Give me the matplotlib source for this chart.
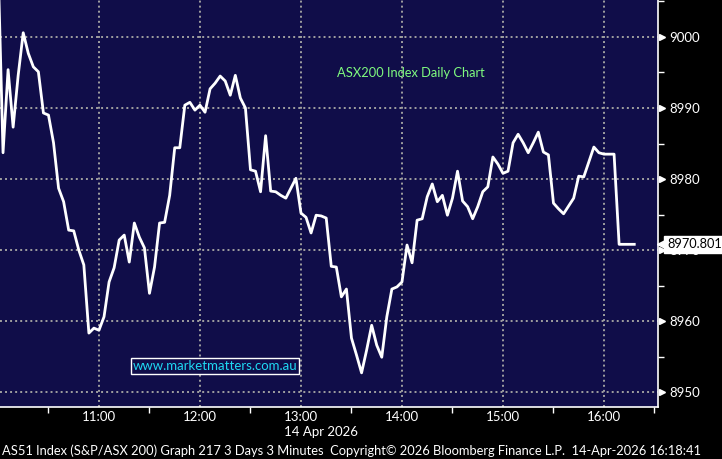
import numpy as np
import pandas as pd
import matplotlib
matplotlib.use("Agg")
import matplotlib.pyplot as plt
import matplotlib.dates as mdates
import matplotlib.transforms as mtransforms
from matplotlib.ticker import MultipleLocator, FixedLocator

# ASX200 3-minute closes, 14 Apr 2026
closes = [
    9010.8, 8983.7, 8995.4, 8987.3, 8994.6, 9000.6, 8997.7, 8995.8, 8995.1, 8989.3,
    8989.0, 8985.1, 8978.7, 8976.8, 8972.8, 8972.7, 8970.0, 8967.9, 8958.3, 8959.0,
    8958.7, 8960.6, 8965.5, 8967.5, 8971.4, 8972.1, 8968.3, 8973.8, 8971.8, 8970.3,
    8963.9, 8967.6, 8973.8, 8973.9, 8977.7, 8984.4, 8984.4, 8990.4, 8990.8, 8989.7,
    8990.4, 8989.4, 8992.7, 8993.5, 8994.5, 8993.8, 8991.8, 8994.6, 8991.4, 8990.0,
    8981.3, 8981.1, 8978.2, 8986.1, 8978.3, 8978.2, 8977.7, 8977.3, 8978.7, 8980.1,
    8975.2, 8974.6, 8972.4, 8974.9, 8974.8, 8974.5, 8967.7, 8967.6, 8963.4, 8964.5,
    8957.6, 8955.2, 8952.7, 8955.9, 8959.4, 8956.6, 8954.9, 8960.6, 8964.5, 8964.8,
    8965.5, 8970.7, 8968.2, 8974.2, 8974.4, 8977.5, 8979.3, 8976.8, 8977.7, 8974.9,
    8977.3, 8981.1, 8976.9, 8976.1, 8974.4, 8976.1, 8978.2, 8978.9, 8983.1, 8982.1,
    8980.8, 8981.1, 8985.1, 8986.3, 8985.1, 8983.7, 8985.1, 8986.6, 8983.8, 8983.4,
    8976.6, 8975.8, 8975.1, 8976.2, 8977.3, 8980.4, 8980.3, 8982.4, 8984.5, 8983.7,
    8983.5, 8983.5, 8983.5, 8970.801, 8970.801, 8970.801, 8970.801,
]
times = pd.date_range("2026-04-14 10:00", periods=len(closes), freq="3min")
last_price = 8970.801
y_ticks = [8950, 8960, 8970, 8980, 8990, 9000]

title = "ASX200 Index Daily Chart"
watermark = "www.marketmatters.com.au"
date_label = "14 Apr 2026"
footer = ("AS51 Index (S&P/ASX 200) Graph 217 3 Days 3 Minutes  "
          "Copyright\u00a9 2026 Bloomberg Finance L.P.  14-Apr-2026 16:18:41")

navy = "#100d49"
plt.rcParams["font.family"] = ["Lato", "DejaVu Sans"]

fig = plt.figure(figsize=(7.22, 4.59), dpi=100, facecolor="black")
ax = fig.add_axes([0, 52 / 459, 658 / 722, 407 / 459])
ax.set_facecolor(navy)

ax.plot(times, closes, color="white", lw=2, zorder=3)

ax.set_xlim(pd.Timestamp("2026-04-14 10:01:12"), pd.Timestamp("2026-04-14 16:32:06"))
ax.set_ylim(8947.89, 9005.21)

# x axis: hourly labels, half-hour minor ticks
ax.xaxis.set_major_locator(mdates.HourLocator())
ax.xaxis.set_minor_locator(mdates.MinuteLocator(byminute=[30]))
ax.xaxis.set_major_formatter(mdates.DateFormatter("%H:%M"))
ax.tick_params(axis="x", which="major", length=0, pad=3, colors="white", labelsize=9.5)
ax.tick_params(axis="x", which="minor", length=4, width=1, color="white")

# y axis on the right
ax.yaxis.tick_right()
ax.yaxis.set_major_locator(FixedLocator(y_ticks))
ax.yaxis.set_minor_locator(MultipleLocator(5))
ax.tick_params(axis="y", which="major", length=0, pad=8, colors="white", labelsize=9.5)
ax.tick_params(axis="y", which="minor", length=4, width=1, color="white")

# dotted grey grid
for v in y_ticks:
    ax.axhline(v, color="#a0a0a0", lw=1.4, ls=(0, (1, 1.6)), zorder=1)
for t in ax.get_xticks():
    ax.axvline(t, color="#a0a0a0", lw=1.4, ls=(0, (1, 1.6)), zorder=1)

for side in ["left", "top"]:
    ax.spines[side].set_visible(False)
for side in ["right", "bottom"]:
    ax.spines[side].set_color("white")
    ax.spines[side].set_linewidth(1.2)

# little arrows between spine and the price labels
tri = mtransforms.blended_transform_factory(fig.transFigure, ax.transData)
ax.plot([661.5 / 722] * len(y_ticks), y_ticks, ls="none", marker=">", ms=5,
        color="white", transform=tri, clip_on=False, zorder=5)

# last price tag
fig.text(667 / 722, last_price, f"{last_price:.3f}", transform=tri,
         color="black", fontsize=9.2, va="center", ha="left", zorder=10,
         bbox=dict(boxstyle="square,pad=0.2", fc="white", ec="white"))
ax.plot([663 / 722], [last_price], ls="none", marker="<", ms=9, color="white",
        transform=tri, clip_on=False, zorder=9)

ax.text(0.625, 0.82, title, transform=ax.transAxes, color="#7ffb7f",
        fontsize=9.3, ha="center", va="center")
ax.text(0.327, 0.10, watermark, transform=ax.transAxes, color="#1fd8f2",
        fontsize=9.5, ha="center", va="center",
        bbox=dict(boxstyle="square,pad=0.15", fc=navy, ec="white", lw=1))

fig.text(321 / 722, 1 - 432 / 459, date_label, color="white", fontsize=9.5,
         ha="center", va="center")
fig.text(2 / 722, 1 - 451 / 459, footer, color="white", fontsize=9.3,
         ha="left", va="center")

fig.savefig("out.png", dpi=100, facecolor="black")
